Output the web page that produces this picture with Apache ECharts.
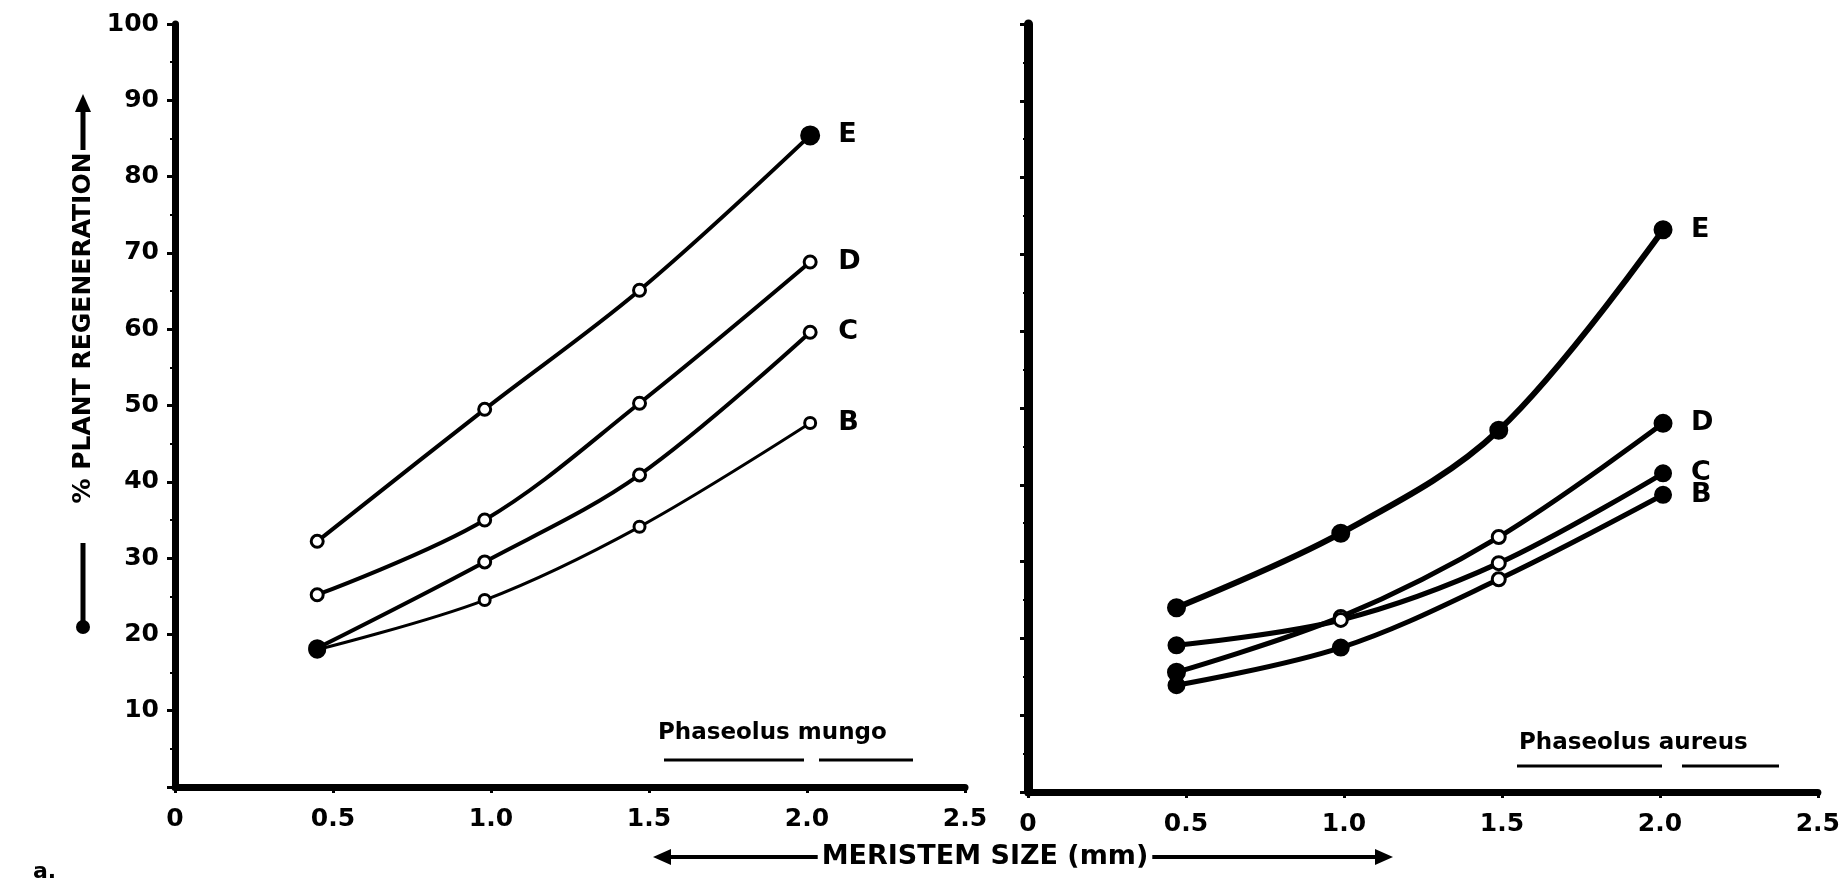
<!DOCTYPE html>
<html>
<head>
<meta charset="utf-8">
<title>Meristem size and plant regeneration</title>
<script src="https://cdn.jsdelivr.net/npm/echarts@6.0.0/dist/echarts.min.js"></script>
<style>
html, body { margin: 0; padding: 0; background: #fff; }
#container { width: 1843px; height: 885px; }
</style>
</head>
<body>
<div id="container"></div>
<script>
// meristem size (mm) at which the points were plotted
var sizeMungo = [0.45, 0.98, 1.47, 2.01];
var sizeAureus = [0.47, 0.99, 1.49, 2.01];

// % plant regeneration - Phaseolus mungo
var mungoE = [32.2, 49.5, 65.1, 85.4];
var mungoD = [25.2, 35.0, 50.3, 68.8];
var mungoC = [18.2, 29.5, 40.9, 59.6];
var mungoB = [18.0, 24.5, 34.1, 47.7];

// % plant regeneration - Phaseolus aureus
var aureusE = [24.0, 33.7, 47.1, 73.2];
var aureusD = [15.6, 22.8, 33.2, 48.0];
var aureusC = [19.1, 22.4, 29.8, 41.5];
var aureusB = [13.9, 18.8, 27.7, 38.7];

var xTickLabels = ['0', '0.5', '1.0', '1.5', '2.0', '2.5'];
var yTickLabels = ['', '10', '20', '30', '40', '50', '60', '70', '80', '90', '100'];

var FONT = 'DejaVu Sans';

var dom = document.getElementById('container');
var myChart = echarts.init(dom, null, { renderer: 'canvas' });

// filled = indexes of points drawn as solid dots, the rest are open circles
function curve(name, xs, ys, panel, filled, width, small, big) {
    return {
        name: name,
        type: 'line',
        xAxisIndex: panel,
        yAxisIndex: panel,
        smooth: 0.35,
        symbol: 'circle',
        symbolSize: function (v, p) {
            return filled.indexOf(p.dataIndex) >= 0 ? big : small;
        },
        data: ys.map(function (v, i) {
            var solid = filled.indexOf(i) >= 0;
            return {
                value: [xs[i], v],
                itemStyle: { color: solid ? '#000' : '#fff', borderColor: '#000', borderWidth: 3 }
            };
        }),
        lineStyle: { color: '#000', width: width },
        endLabel: {
            show: true,
            formatter: '{a}',
            distance: 28,
            color: '#000',
            fontSize: 27,
            fontWeight: 'bold',
            fontFamily: FONT
        },
        emphasis: { disabled: true },
        animation: false
    };
}

function xAxis(grid) {
    return {
        type: 'value', gridIndex: grid, min: 0, max: 2.5, interval: 0.5,
        axisLine: { lineStyle: { color: '#000', width: 7 } },
        axisTick: { show: true, length: 6, lineStyle: { color: '#000', width: 3 } },
        axisLabel: {
            color: '#000', fontSize: 25, fontWeight: 'bold', fontFamily: FONT, margin: 20,
            formatter: function (v) { return xTickLabels[Math.round(v / 0.5)]; }
        },
        splitLine: { show: false }
    };
}

function yAxis(grid, labels, lineW) {
    return {
        type: 'value', gridIndex: grid, min: 0, max: 100, interval: 10,
        axisLine: { show: true, lineStyle: { color: '#000', width: lineW } },
        axisTick: { show: true, length: 8, lineStyle: { color: '#000', width: 3 } },
        minorTick: { show: true, splitNumber: 2, length: 5, lineStyle: { color: '#000', width: 2 } },
        axisLabel: {
            show: labels, color: '#000', fontSize: 25, fontWeight: 'bold', fontFamily: FONT, margin: 16,
            formatter: function (v) { return yTickLabels[Math.round(v / 10)]; }
        },
        splitLine: { show: false }
    };
}

var bold = function (size) { return 'bold ' + size + 'px "' + FONT + '"'; };

option = {
    backgroundColor: '#fff',
    animation: false,
    grid: [
        { left: 175, top: 24, width: 790, height: 763 },
        { left: 1028, top: 24, width: 790, height: 768 }
    ],
    xAxis: [xAxis(0), xAxis(1)],
    yAxis: [yAxis(0, true, 7), yAxis(1, false, 9)],
    series: [
        curve('E', sizeMungo, mungoE, 0, [3], 4, 12, 17),
        curve('D', sizeMungo, mungoD, 0, [], 4, 12, 16),
        curve('C', sizeMungo, mungoC, 0, [0], 4, 12, 15),
        curve('B', sizeMungo, mungoB, 0, [0], 3, 11, 15),
        curve('E', sizeAureus, aureusE, 1, [0, 1, 2, 3], 6, 13, 16),
        curve('D', sizeAureus, aureusD, 1, [0, 3], 5, 13, 16),
        curve('C', sizeAureus, aureusC, 1, [0, 3], 5, 13, 15),
        curve('B', sizeAureus, aureusB, 1, [0, 1, 3], 5, 13, 15)
    ],
    graphic: [
        // y axis title with its arrow
        { type: 'text', x: 83, y: 328, rotation: Math.PI / 2,
          style: { text: '% PLANT REGENERATION', font: bold(25), fill: '#000', textAlign: 'center', textVerticalAlign: 'middle' } },
        { type: 'line', shape: { x1: 83, y1: 150, x2: 83, y2: 106 }, style: { stroke: '#000', lineWidth: 5 } },
        { type: 'polygon', shape: { points: [[75, 112], [91, 112], [83, 94]] }, style: { fill: '#000' } },
        { type: 'line', shape: { x1: 83, y1: 543, x2: 83, y2: 627 }, style: { stroke: '#000', lineWidth: 5 } },
        { type: 'circle', shape: { cx: 83, cy: 627, r: 7 }, style: { fill: '#000' } },

        // x axis title with arrows both ways
        { type: 'line', shape: { x1: 665, y1: 857, x2: 1380, y2: 857 }, style: { stroke: '#000', lineWidth: 4 } },
        { type: 'polygon', shape: { points: [[653, 857], [671, 849], [671, 865]] }, style: { fill: '#000' } },
        { type: 'polygon', shape: { points: [[1393, 857], [1375, 849], [1375, 865]] }, style: { fill: '#000' } },
        { type: 'text', x: 985, y: 857,
          style: { text: 'MERISTEM SIZE (mm)', font: bold(27), fill: '#000', textAlign: 'center', textVerticalAlign: 'middle',
                   backgroundColor: '#fff', padding: [0, 4] } },

        // species names, underlined
        { type: 'text', x: 658, y: 733,
          style: { text: 'Phaseolus mungo', font: bold(23), fill: '#000', textAlign: 'left', textVerticalAlign: 'middle' } },
        { type: 'line', shape: { x1: 664, y1: 760, x2: 804, y2: 760 }, style: { stroke: '#000', lineWidth: 3 } },
        { type: 'line', shape: { x1: 819, y1: 760, x2: 913, y2: 760 }, style: { stroke: '#000', lineWidth: 3 } },
        { type: 'text', x: 1519, y: 743,
          style: { text: 'Phaseolus aureus', font: bold(23), fill: '#000', textAlign: 'left', textVerticalAlign: 'middle' } },
        { type: 'line', shape: { x1: 1517, y1: 766, x2: 1662, y2: 766 }, style: { stroke: '#000', lineWidth: 3 } },
        { type: 'line', shape: { x1: 1682, y1: 766, x2: 1779, y2: 766 }, style: { stroke: '#000', lineWidth: 3 } },

        { type: 'text', x: 33, y: 872,
          style: { text: 'a.', font: bold(22), fill: '#000', textAlign: 'left', textVerticalAlign: 'middle' } }
    ]
};

if (option && typeof option === 'object') {
    myChart.setOption(option, true);
}
</script>
</body>
</html>
